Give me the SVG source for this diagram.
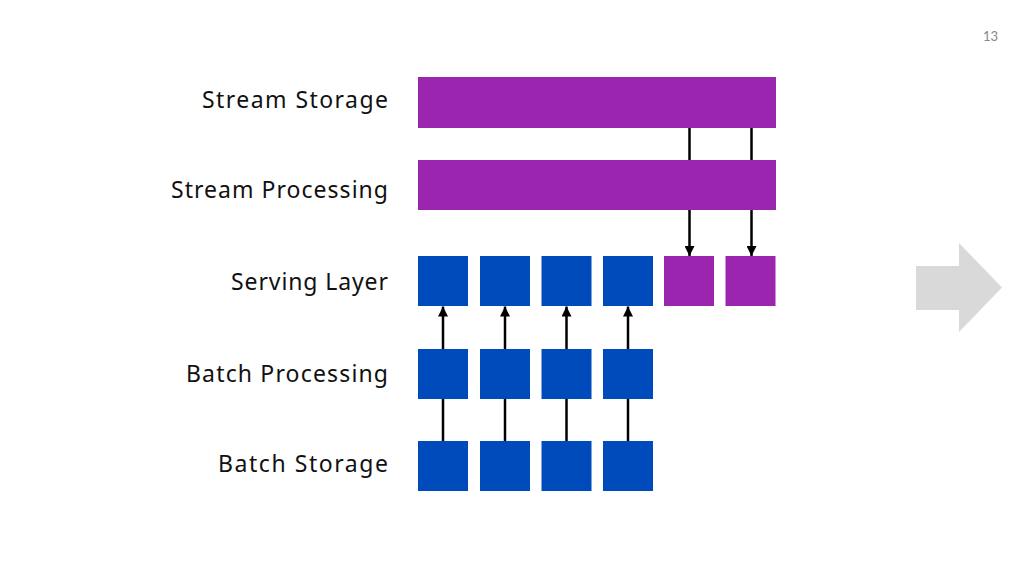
<svg xmlns="http://www.w3.org/2000/svg" width="1024" height="576" viewBox="0 0 1024 576">
<defs>
<style>
.lbl{font-family:"Noto Sans","Liberation Sans",sans-serif;font-size:23px;fill:#111;text-anchor:end;dominant-baseline:central}
.p{fill:#9c25b0}
.b{fill:#004bbb}
.c{stroke:#000;stroke-width:2.5;fill:none}
</style>
<marker id="ah" viewBox="0 0 10 10" refX="10" refY="5" markerWidth="10" markerHeight="10" markerUnits="userSpaceOnUse" orient="auto">
<path d="M0,0 L10,5 L0,10 z" fill="#000"/>
</marker>
</defs>
<rect width="1024" height="576" fill="#fff"/>
<text x="998" y="36" font-family="Lato,'Liberation Sans',sans-serif" font-size="13" fill="#888" text-anchor="end" dominant-baseline="central">13</text>
<g id="labels">
<text class="lbl" x="388" y="99" textLength="186" lengthAdjust="spacing">Stream Storage</text>
<text class="lbl" x="388" y="189" textLength="217" lengthAdjust="spacing">Stream Processing</text>
<text class="lbl" x="388" y="281" textLength="157" lengthAdjust="spacing">Serving Layer</text>
<text class="lbl" x="388" y="373" textLength="202" lengthAdjust="spacing">Batch Processing</text>
<text class="lbl" x="388" y="463" textLength="170" lengthAdjust="spacing">Batch Storage</text>
</g>
<g id="connectors">
<line class="c" x1="689.5" y1="128" x2="689.5" y2="256" marker-end="url(#ah)"/>
<line class="c" x1="751.5" y1="128" x2="751.5" y2="256" marker-end="url(#ah)"/>
<line class="c" x1="443" y1="441" x2="443" y2="306.5" marker-end="url(#ah)"/>
<line class="c" x1="505" y1="441" x2="505" y2="306.5" marker-end="url(#ah)"/>
<line class="c" x1="566.5" y1="441" x2="566.5" y2="306.5" marker-end="url(#ah)"/>
<line class="c" x1="628" y1="441" x2="628" y2="306.5" marker-end="url(#ah)"/>
</g>
<g id="stream-storage"><rect class="p" x="418" y="77" width="358" height="51"/></g>
<g id="stream-processing"><rect class="p" x="418" y="160" width="358" height="50"/></g>
<g id="serving-layer">
<rect class="b" x="418" y="256" width="50" height="50"/>
<rect class="b" x="480" y="256" width="50" height="50"/>
<rect class="b" x="541.5" y="256" width="50" height="50"/>
<rect class="b" x="603" y="256" width="50" height="50"/>
<rect class="p" x="664" y="256" width="50" height="50"/>
<rect class="p" x="725.5" y="256" width="50" height="50"/>
</g>
<g id="batch-processing">
<rect class="b" x="418" y="349" width="50" height="50"/>
<rect class="b" x="480" y="349" width="50" height="50"/>
<rect class="b" x="541.5" y="349" width="50" height="50"/>
<rect class="b" x="603" y="349" width="50" height="50"/>
</g>
<g id="batch-storage">
<rect class="b" x="418" y="441" width="50" height="50"/>
<rect class="b" x="480" y="441" width="50" height="50"/>
<rect class="b" x="541.5" y="441" width="50" height="50"/>
<rect class="b" x="603" y="441" width="50" height="50"/>
</g>
<g id="next-arrow">
<polygon points="916,266 959,266 959,243 1002,287.5 959,332 959,310 916,310" fill="#d9d9d9"/>
</g>
</svg>
